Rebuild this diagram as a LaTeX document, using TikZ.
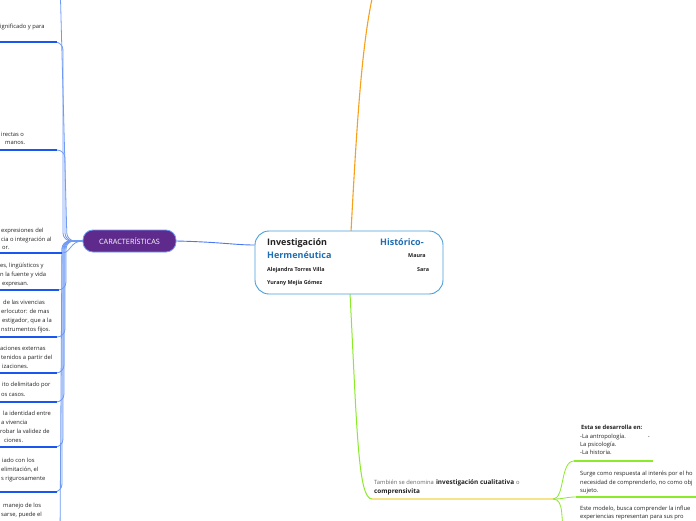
\documentclass[tikz,border=0pt]{standalone}
\usepackage{fontspec}
\setmainfont{Open Sans}
\definecolor{cblue}{HTML}{4A9FDB}
\definecolor{tblue}{HTML}{1F6DB3}
\definecolor{ublue}{HTML}{1A56F0}
\definecolor{lblue}{HTML}{6F9BF5}
\definecolor{purp}{HTML}{5E2A8C}
\definecolor{orng}{HTML}{F7A11A}
\definecolor{lgreen}{HTML}{8BEA2A}
\definecolor{yel}{HTML}{F6E38A}
\definecolor{txt}{HTML}{222222}
\begin{document}
\begin{tikzpicture}[x=1pt,y=-1pt,
  ltxt/.style={anchor=mid west, inner sep=0pt, font=\fontsize{5.8}{8}\selectfont, text=txt},
  rtxt/.style={anchor=mid west, inner sep=0pt, font=\fontsize{5.8}{8}\selectfont, text=txt},
  uline/.style={draw=ublue, line width=1.2pt},
  conn/.style={draw=lblue, line width=0.8pt, rounded corners=8pt},
  gline/.style={draw=lgreen, line width=1pt},
  ctxt/.style={anchor=base west, inner sep=0pt},
]
\useasboundingbox (0,0) rectangle (696,520);
\clip (0,0) rectangle (696,520);
\fill[white] (0,0) rectangle (696,520);

% orange and green main branches
\coordinate (otop) at (374,-10);
\coordinate (gcorner) at (372,499);
\coordinate (gsplit) at (553,499);
\draw[draw=orng, line width=1.1pt] (351,232) .. controls (357,120) and (362,40) .. (otop);
\draw[gline] (350,293) .. controls (357,430) and (358,499) .. (gcorner);
\draw[draw=yel, line width=1.5pt] (gcorner) -- (gsplit);

% central node
\node[draw=cblue, line width=0.9pt, rounded corners=14pt, minimum width=188pt, minimum height=63pt, fill=white, inner sep=0pt] (center) at (349,262.5) {};
\node[ctxt, font=\fontsize{9}{10}\selectfont\bfseries, text=txt] (t1) at (267,245.5) {Investigación};
\node[ctxt, font=\fontsize{9}{10}\selectfont\bfseries, text=tblue] (t2) at (380,245.5) {Histórico-};
\node[ctxt, font=\fontsize{9}{10}\selectfont\bfseries, text=tblue] (t3) at (267,258.3) {Hermenéutica};
\node[ctxt, font=\fontsize{5.4}{6}\selectfont\bfseries, text=txt] (t4) at (408,257.5) {Maura};
\node[ctxt, font=\fontsize{5.4}{6}\selectfont\bfseries, text=txt] (t5) at (267,271.5) {Alejandra Torres Villa};
\node[ctxt, font=\fontsize{5.4}{6}\selectfont\bfseries, text=txt] (t6) at (417,271.5) {Sara};
\node[ctxt, font=\fontsize{5.4}{6}\selectfont\bfseries, text=txt] (t7) at (267,284.5) {Yurany Mejía Gómez};

% caracteristicas
\node[draw=lblue, line width=0.8pt, fill=purp, rounded corners=10pt, minimum width=93pt, minimum height=22pt, inner sep=0pt, text=white, font=\fontsize{7.3}{8}\selectfont] (car) at (129.5,241) {CARACTERÍSTICAS};
\draw[draw=ublue!80, line width=0.9pt] (car.east) .. controls (220,242) and (235,245) .. (center.west |- 0,245);
\coordinate (O) at (car.west);

% blue bundle
\draw[conn] (O) -- (67,241) -- (60,-20);
\draw[conn] (O) -- (63,241) -- (63,42) -- (55,42);
\draw[conn] (O) -- (65,241) -- (65,150) -- (55,150);
\draw[conn] (O) .. controls (70,241) and (71,253) .. (62,253);
\draw[conn] (O) -- (66,241) -- (66,290) -- (57,290);
\draw[conn] (O) -- (65,241) -- (65,337) -- (55,337);
\draw[conn] (O) -- (64,241) -- (64,373) -- (55,373);
\draw[conn] (O) -- (64,241) -- (64,402) -- (55,402);
\draw[conn] (O) -- (63,241) -- (63,447) -- (55,447);
\draw[conn] (O) -- (62,241) -- (62,492) -- (55,492);
\draw[conn] (O) -- (62,241) -- (60,540);

% underlines
\draw[uline] (0,42) -- (57,42);
\draw[uline] (0,150) -- (57,150);
\draw[uline] (0,253) -- (62,253);
\draw[uline] (0,290) -- (59,290);
\draw[uline] (0,337) -- (57,337);
\draw[uline] (0,373) -- (57,373);
\draw[uline] (0,402) -- (57,402);
\draw[uline] (0,447) -- (57,447);
\draw[uline] (0,492) -- (57,492);

% left texts
\node[ltxt] (a1) at (0,26) {ignificado y para};
\node[ltxt] (b1) at (1,134) {irectas o};
\node[ltxt] (b2) at (5,142) {manos.};
\node[ltxt] (c1) at (1,230) {expresiones del};
\node[ltxt] (c2) at (1,239) {cia o integración al};
\node[ltxt] (c3) at (2,247) {or.};
\node[ltxt] (d1) at (0,265) {es, lingüísticos y};
\node[ltxt] (d2) at (0,274) {n la fuente y vida};
\node[ltxt] (d3) at (2,283) {expresan.};
\node[ltxt] (e1) at (3,302) {de las vivencias};
\node[ltxt] (e2) at (1,311) {erlocutor: de mas};
\node[ltxt] (e3) at (2,320) {estigador, que a la};
\node[ltxt] (e4) at (1,329) {nstrumentos fijos.};
\node[ltxt] (f1) at (0,348) {aciones externas};
\node[ltxt] (f2) at (1,357) {tenidos a partir del};
\node[ltxt] (f3) at (2,366) {izaciones.};
\node[ltxt] (g1) at (2,384) {ito delimitado por};
\node[ltxt] (g2) at (1,394) {os casos.};
\node[ltxt] (h1) at (3,413) {la identidad entre};
\node[ltxt] (h2) at (1,422) {a vivencia};
\node[ltxt] (h3) at (0,431) {robar la validez de};
\node[ltxt] (h4) at (4,440) {ciones.};
\node[ltxt] (i1) at (2,460) {iado con los};
\node[ltxt] (i2) at (1,469) {elimitación, el};
\node[ltxt] (i3) at (1,478) {s rigurosamente};
\node[ltxt] (j1) at (3,505) {manejo de los};
\node[ltxt] (j2) at (1,514) {sarse, puede el};

% green right branches
\coordinate (r1) at (574,461);
\coordinate (r2) at (576,497);
\coordinate (r3) at (565,540);
\draw[gline, line width=0.8pt] (gsplit) .. controls (565,499) and (560,461) .. (r1);
\draw[gline, line width=0.8pt] (gsplit) .. controls (565,499) and (565,497) .. (r2);
\draw[gline, line width=0.8pt] (gsplit) .. controls (565,499) and (560,520) .. (r3);
\draw[gline, line width=1.2pt] (r1) -- (653,461);
\draw[gline, line width=1.2pt] (r2) -- (700,497);

\node[anchor=mid west, inner sep=0pt, text=black!60, font=\fontsize{5.8}{8}\selectfont] (tam) at (374,482) {También se denomina};
\node[anchor=mid west, inner sep=0pt, text=txt, font=\fontsize{6.4}{8}\selectfont\bfseries] (inv) at (tam.mid east) {\ investigación cualitativa};
\node[anchor=mid west, inner sep=0pt, text=black!60, font=\fontsize{5.8}{8}\selectfont] (oo) at (inv.mid east) {\ o};
\node[anchor=mid west, inner sep=0pt, text=txt, font=\fontsize{6.4}{8}\selectfont\bfseries] (comp) at (374,491) {comprensivita};

\node[rtxt, font=\fontsize{5.8}{8}\selectfont\bfseries] (r1a) at (581,427) {Esta se desarrolla en:};
\node[rtxt] (r1b) at (580,436) {-La antropología.\hspace{22pt}-};
\node[rtxt] (r1c) at (580,444) {La psicología.};
\node[rtxt] (r1d) at (580,452) {-La historia.};
\node[rtxt] (r2a) at (580,473) {Surge como respuesta al interés por el ho};
\node[rtxt] (r2b) at (580,482) {necesidad de comprenderlo, no como obj};
\node[rtxt] (r2c) at (580,490) {sujeto.};
\node[rtxt] (r3a) at (580,508) {Este modelo, busca comprender la influe};
\node[rtxt] (r3b) at (580,516) {experiencias representan para sus pro};
\end{tikzpicture}
\end{document}
